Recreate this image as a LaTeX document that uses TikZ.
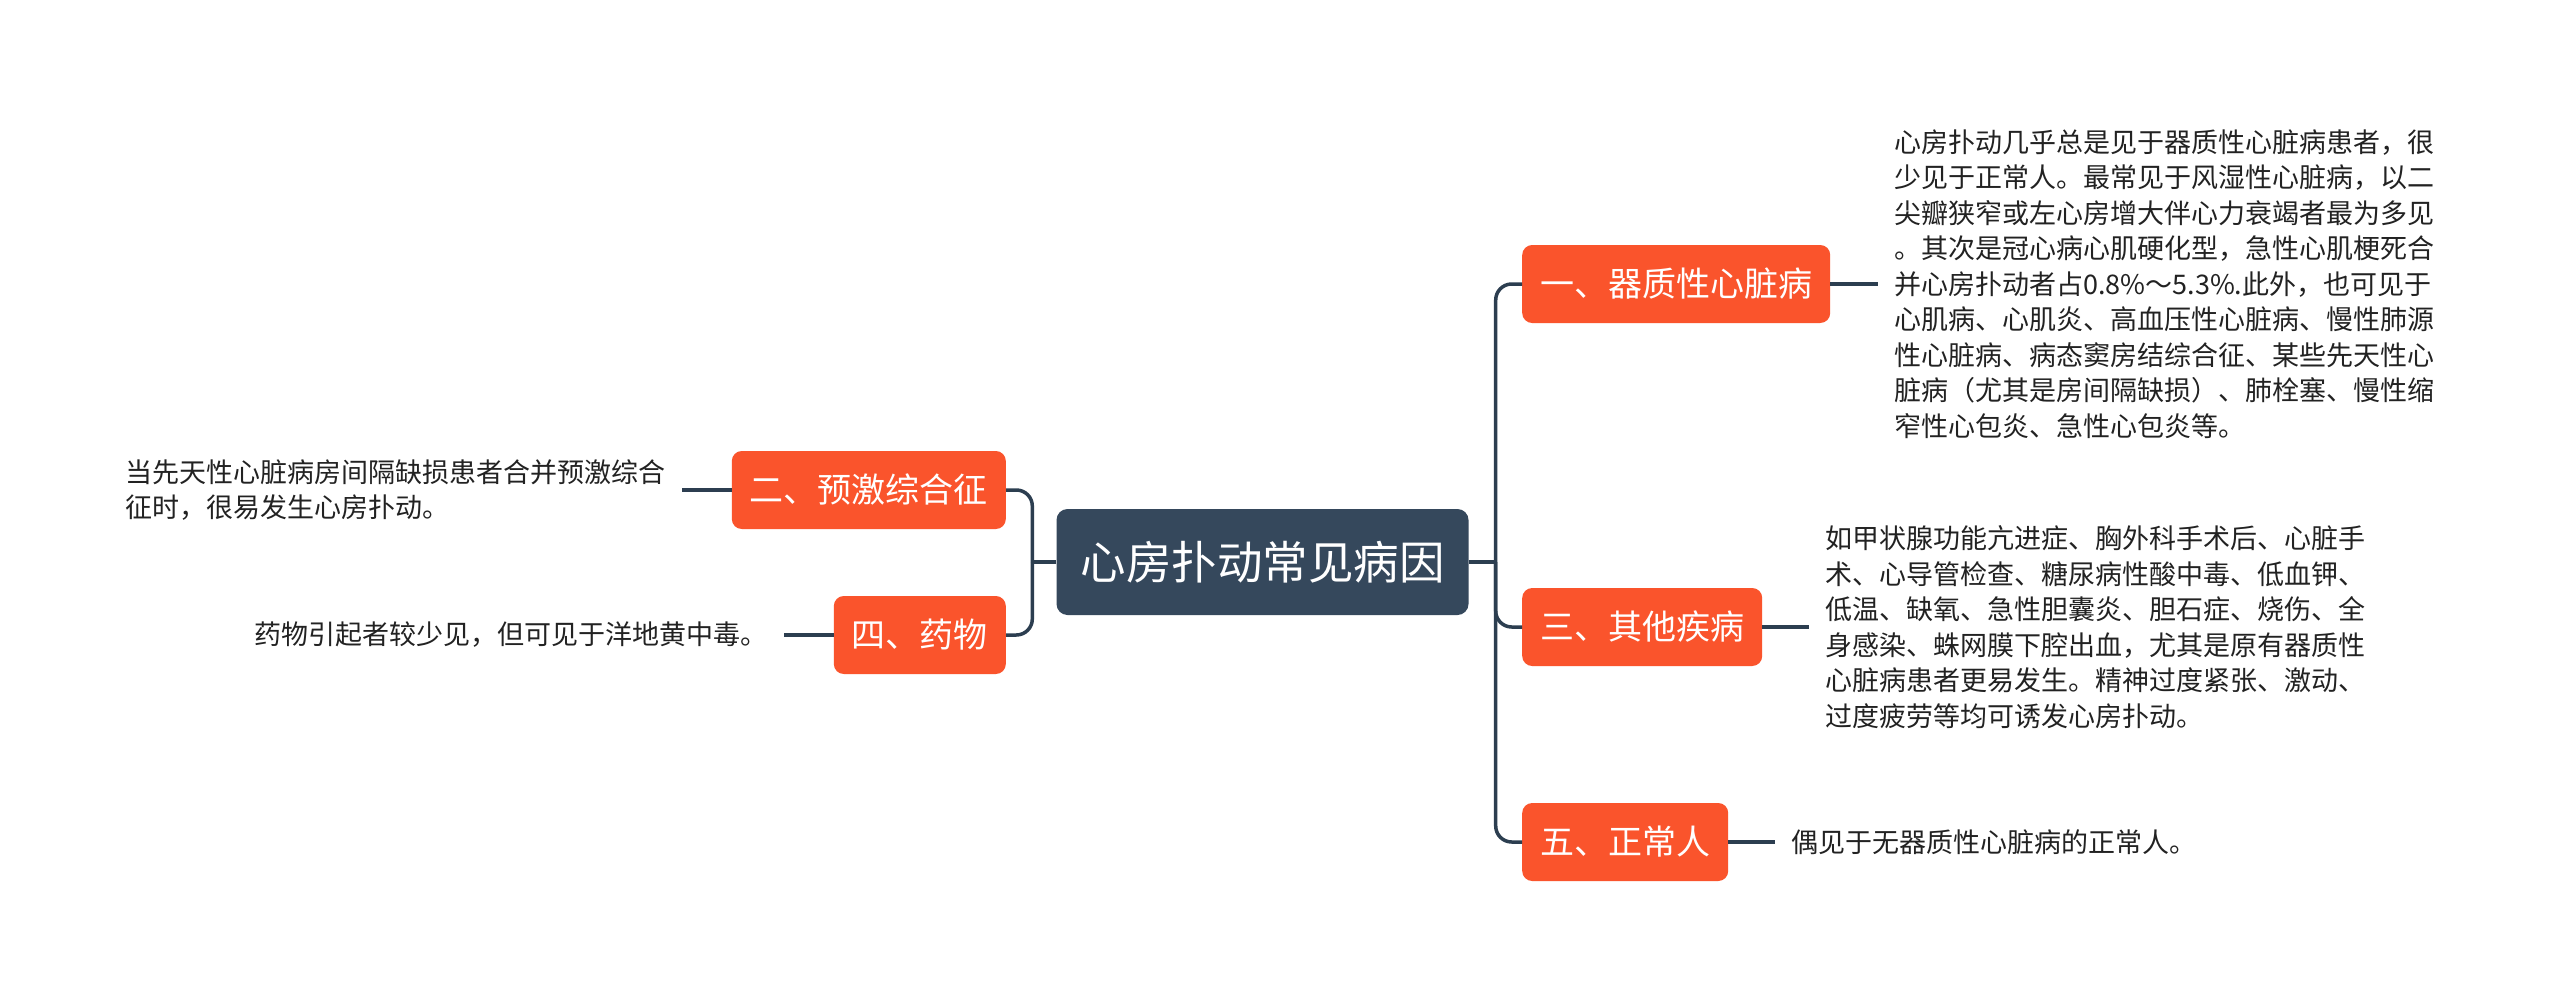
\documentclass[tikz,border=0pt]{standalone}
\usepackage{fontspec}
\newfontfamily\cjk{Noto Sans CJK SC}
\usetikzlibrary{calc}
\definecolor{orn}{RGB}{250,84,44}
\definecolor{dark}{RGB}{53,72,92}
\definecolor{lnc}{RGB}{44,62,80}
\definecolor{txt}{RGB}{34,34,34}
\begin{document}
\begin{tikzpicture}[x=1pt,y=-1pt,
 root/.style={fill=dark, text=white, rounded corners=11pt, minimum height=106pt, inner xsep=24pt, font=\cjk\fontsize{45.5}{54}\selectfont},
 branch/.style={fill=orn, text=white, rounded corners=10pt, minimum height=78pt, inner xsep=18pt, font=\cjk\fontsize{34}{40}\selectfont},
 desc/.style={text=txt, align=left, inner xsep=16pt, inner ysep=0pt, font=\cjk\fontsize{27}{35.5}\selectfont},
 conn/.style={draw=lnc, line width=3.5pt},
]
\fill[white] (0,0) rectangle (2560,998);
\useasboundingbox (0,0) rectangle (2560,998);

\node[root] (c) at (1262.5,562) {心房扑动常见病因};
\node[branch, anchor=west] (n1) at (1522,284) {一、器质性心脏病};
\node[branch, anchor=west] (n3) at (1522,627) {三、其他疾病};
\node[branch, anchor=west] (n5) at (1522,842) {五、正常人};
\node[branch, anchor=east] (n2) at (1006,490) {二、预激综合征};
\node[branch, anchor=east] (n4) at (1006,635) {四、药物};

\node[desc, anchor=west] (t1) at (1878,284) {心房扑动几乎总是见于器质性心脏病患者，很\\少见于正常人。最常见于风湿性心脏病，以二\\尖瓣狭窄或左心房增大伴心力衰竭者最为多见\\。其次是冠心病心肌硬化型，急性心肌梗死合\\并心房扑动者占0.8\%～5.3\%.此外，也可见于\\心肌病、心肌炎、高血压性心脏病、慢性肺源\\性心脏病、病态窦房结综合征、某些先天性心\\脏病（尤其是房间隔缺损）、肺栓塞、慢性缩\\窄性心包炎、急性心包炎等。};
\node[desc, anchor=west] (t3) at (1809,627) {如甲状腺功能亢进症、胸外科手术后、心脏手\\术、心导管检查、糖尿病性酸中毒、低血钾、\\低温、缺氧、急性胆囊炎、胆石症、烧伤、全\\身感染、蛛网膜下腔出血，尤其是原有器质性\\心脏病患者更易发生。精神过度紧张、激动、\\过度疲劳等均可诱发心房扑动。};
\node[desc, anchor=west] (t5) at (1775,842) {偶见于无器质性心脏病的正常人。};
\node[desc, anchor=east] (t2) at (682,490) {当先天性心脏病房间隔缺损患者合并预激综合\\征时，很易发生心房扑动。};
\node[desc, anchor=east] (t4) at (784,635) {药物引起者较少见，但可见于洋地黄中毒。};

\coordinate (rj) at ($(c.east)+(27,0)$);
\coordinate (lj) at ($(c.west)+(-24,0)$);
\draw[conn] (c.east) -- (rj);
\draw[conn, rounded corners=16pt] (rj) |- (n1.west);
\draw[conn, rounded corners=16pt] (rj) |- (n3.west);
\draw[conn, rounded corners=16pt] (rj) |- (n5.west);
\draw[conn] (c.west) -- (lj);
\draw[conn, rounded corners=16pt] (lj) |- (n2.east);
\draw[conn, rounded corners=16pt] (lj) |- (n4.east);

\draw[conn] (n1.east) -- (t1.west);
\draw[conn] (n3.east) -- (t3.west);
\draw[conn] (n5.east) -- (t5.west);
\draw[conn] (n2.west) -- (t2.east);
\draw[conn] (n4.west) -- (t4.east);
\end{tikzpicture}
\end{document}
